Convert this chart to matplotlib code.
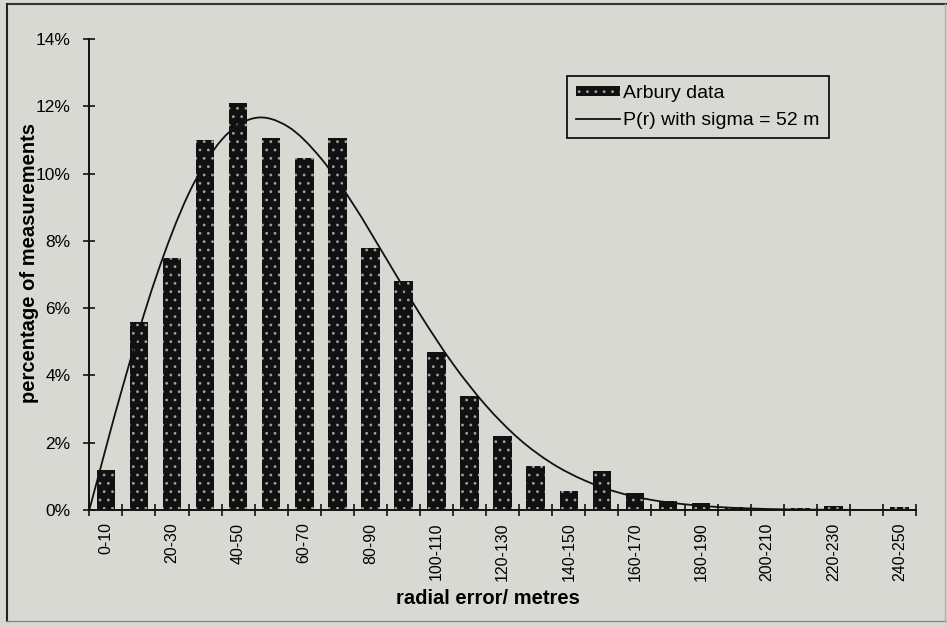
import matplotlib
matplotlib.use("Agg")
import matplotlib.pyplot as plt
import numpy as np
from matplotlib.path import Path
from matplotlib.patches import PathPatch, Rectangle
from matplotlib.lines import Line2D

# ---------------- data ----------------
categories = ["0-10", "10-20", "20-30", "30-40", "40-50", "50-60", "60-70",
              "70-80", "80-90", "90-100", "100-110", "110-120", "120-130",
              "130-140", "140-150", "150-160", "160-170", "170-180", "180-190",
              "190-200", "200-210", "210-220", "220-230", "230-240", "240-250"]
arbury_pct = [1.2, 5.6, 7.5, 11.0, 12.1, 11.05, 10.45, 11.05, 7.8, 6.8,
              4.7, 3.4, 2.2, 1.3, 0.55, 1.15, 0.5, 0.27, 0.2, 0.08,
              0.02, 0.07, 0.13, 0.01, 0.1]
# theoretical curve P(r), sigma = 52 m, read at 10 m steps
curve_r = [0, 10, 20, 30, 40, 50, 60, 70, 80, 90, 100, 110, 120, 130,
           140, 150, 160, 170, 180, 190, 200, 210, 220, 230, 240, 250]
curve_pct = [0.0, 3.63, 6.87, 9.39, 11.0, 11.65, 11.4, 10.46, 9.06, 7.44,
             5.82, 4.34, 3.10, 2.11, 1.38, 0.87, 0.52, 0.30, 0.17, 0.09,
             0.045, 0.02, 0.01, 0.004, 0.002, 0.001]
y_ticks = [0, 2, 4, 6, 8, 10, 12, 14]
y_tick_labels = ["0%", "2%", "4%", "6%", "8%", "10%", "12%", "14%"]
legend_labels = ["Arbury data", "P(r) with sigma = 52 m"]
x_title = "radial error/ metres"
y_title = "percentage of measurements"

# ---------------- style ----------------
plt.rcParams['font.family'] = ['Liberation Sans', 'DejaVu Sans']
plt.rcParams['hatch.linewidth'] = 0.8
BG = '#d9d9d3'
INK = '#111111'

W, H = 947, 627
fig = plt.figure(figsize=(W / 100, H / 100), dpi=100, facecolor=BG)
ax_left, ax_right, ax_top, ax_bottom = 89.3, 916.0, 39.0, 510.0
ax = fig.add_axes([ax_left / W, 1 - ax_bottom / H,
                   (ax_right - ax_left) / W, (ax_bottom - ax_top) / H])
ax.set_facecolor(BG)

x = np.arange(len(categories)) + 0.5
ax.bar(x, arbury_pct, width=0.56, color=INK, edgecolor='#a0a0a0',
       hatch='..', linewidth=0, zorder=2)

# smoothed curve (Catmull-Rom rendering, like a spreadsheet smoothed line)
pts = np.column_stack([np.array(curve_r) / 10.0, np.array(curve_pct)])
ext = np.vstack([pts[0], pts, pts[-1]])
verts = [pts[0]]
codes = [Path.MOVETO]
for i in range(len(pts) - 1):
    p0, p1, p2, p3 = ext[i], ext[i + 1], ext[i + 2], ext[i + 3]
    verts += [p1 + (p2 - p0) / 6.0, p2 - (p3 - p1) / 6.0, p2]
    codes += [Path.CURVE4] * 3
ax.add_patch(PathPatch(Path(verts, codes), fill=False, edgecolor=INK,
                       lw=1.3, zorder=4))

ax.set_xlim(0, len(categories))
ax.set_ylim(0, 14)
for s in ['top', 'right']:
    ax.spines[s].set_visible(False)
for s in ['left', 'bottom']:
    ax.spines[s].set_linewidth(1.4)
    ax.spines[s].set_color(INK)

ax.set_xticks(np.arange(0, len(categories) + 1))
ax.set_xticklabels([])
ax.set_xticks(x[::2], minor=True)
ax.set_xticklabels(categories[::2], minor=True, rotation=90, fontsize=11.5)
ax.tick_params(axis='x', which='major', direction='inout', length=8,
               width=1.2, color=INK)
ax.tick_params(axis='x', which='minor', length=0, pad=9)
ax.set_yticks(y_ticks)
ax.set_yticklabels(y_tick_labels, fontsize=12.5)
ax.tick_params(axis='y', direction='inout', length=9, width=1.2,
               color=INK, pad=9)

ax.set_xlabel(x_title, fontsize=14.5, fontweight='bold')
ax.xaxis.set_label_coords((488 - ax_left) / (ax_right - ax_left),
                          (ax_bottom - 589) / (ax_bottom - ax_top))
ax.set_ylabel(y_title, fontsize=14.5, fontweight='bold')
ax.yaxis.set_label_coords(-(ax_left - 39) / (ax_right - ax_left),
                          (ax_bottom - 263) / (ax_bottom - ax_top))

bar_handle = Rectangle((0, 0), 1, 1, facecolor=INK, edgecolor='#a0a0a0',
                       hatch='..', linewidth=0)
line_handle = Line2D([], [], color=INK, lw=1.3)
leg = ax.legend([bar_handle, line_handle], legend_labels,
                loc='upper left', bbox_to_anchor=(567 / W, 1 - 76 / H),
                bbox_transform=fig.transFigure, borderaxespad=0,
                fontsize=14, frameon=True, fancybox=False,
                facecolor=BG, edgecolor=INK, framealpha=1,
                borderpad=0.45, handlelength=2.3, handleheight=0.45,
                handletextpad=0.15, labelspacing=0.55)
leg.get_frame().set_linewidth(1.3)

# outer frame of the chart area
def fline(x0, y0, x1, y1, c, lw):
    fig.add_artist(Line2D([x0 / W, x1 / W], [1 - y0 / H, 1 - y1 / H],
                          transform=fig.transFigure, color=c, lw=lw))
fline(7, 4, 947, 4, '#333333', 1.5)
fline(7, 4, 7, 621, '#222222', 1.5)
fline(7, 621, 947, 621, '#8a8a8a', 1.0)
fline(945, 4, 945, 621, '#b0b0b0', 1.0)

fig.savefig('out.png', dpi=100, facecolor=BG)
